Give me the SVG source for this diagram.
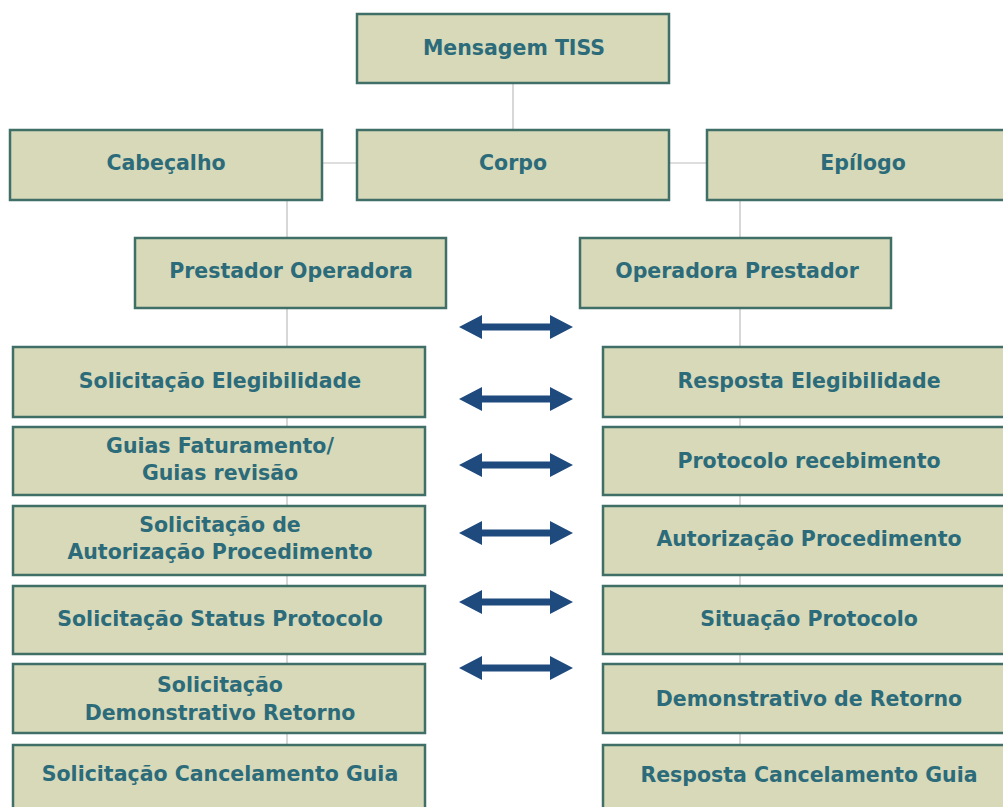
<svg xmlns="http://www.w3.org/2000/svg" width="1003" height="807" viewBox="0 0 1003 807">
  <style>
    .box rect { fill: #D7D9B9; stroke: #3F6F66; stroke-width: 2.5; }
    .box text { font-family: "DejaVu Sans", "Liberation Sans", sans-serif; font-weight: bold; font-size: 20.5px; fill: #2C6B7A; text-anchor: middle; }
    .conn line { stroke: #BDBDBD; stroke-width: 1.2; }
    .arr use { fill: #1F4A7E; }
  </style>
  <defs>
    <path id="dbl" d="M0,0 L23,-12 L23,-3.5 L91,-3.5 L91,-12 L114,0 L91,12 L91,3.5 L23,3.5 L23,12 Z"/>
  </defs>
  <rect width="1003" height="807" fill="#FFFFFF"/>

  <!-- connectors -->
  <g id="connectors" class="conn">
    <line x1="513" y1="83" x2="513" y2="130"/>
    <line x1="322" y1="163" x2="357" y2="163"/>
    <line x1="669" y1="163" x2="707" y2="163"/>
    <line x1="287" y1="200" x2="287" y2="238"/>
    <line x1="740" y1="200" x2="740" y2="238"/>
    <line x1="287" y1="308" x2="287" y2="347"/>
    <line x1="740" y1="308" x2="740" y2="347"/>
    <line x1="287" y1="417" x2="287" y2="427"/>
    <line x1="287" y1="495" x2="287" y2="506"/>
    <line x1="287" y1="575" x2="287" y2="586"/>
    <line x1="287" y1="654" x2="287" y2="664"/>
    <line x1="287" y1="733" x2="287" y2="745"/>
    <line x1="740" y1="417" x2="740" y2="427"/>
    <line x1="740" y1="495" x2="740" y2="506"/>
    <line x1="740" y1="575" x2="740" y2="586"/>
    <line x1="740" y1="654" x2="740" y2="664"/>
    <line x1="740" y1="733" x2="740" y2="745"/>
  </g>

  <!-- exchange arrows -->
  <g id="arrows" class="arr">
    <use href="#dbl" x="459" y="327"/>
    <use href="#dbl" x="459" y="399"/>
    <use href="#dbl" x="459" y="465"/>
    <use href="#dbl" x="459" y="533"/>
    <use href="#dbl" x="459" y="602"/>
    <use href="#dbl" x="459" y="668"/>
  </g>

  <!-- top levels -->
  <g id="mensagem" class="box"><rect x="357" y="14" width="312" height="69"/><text x="514" y="55">Mensagem TISS</text></g>
  <g id="cabecalho" class="box"><rect x="10" y="130" width="312" height="70"/><text x="166" y="170">Cabeçalho</text></g>
  <g id="corpo" class="box"><rect x="357" y="130" width="312" height="70"/><text x="513" y="170">Corpo</text></g>
  <g id="epilogo" class="box"><rect x="707" y="130" width="312" height="70"/><text x="863" y="170">Epílogo</text></g>
  <g id="prestador-operadora" class="box"><rect x="135" y="238" width="311" height="70"/><text x="291" y="278">Prestador Operadora</text></g>
  <g id="operadora-prestador" class="box"><rect x="580" y="238" width="311" height="70"/><text x="737" y="278">Operadora Prestador</text></g>

  <!-- left column -->
  <g id="sol-elegibilidade" class="box"><rect x="13" y="347" width="412" height="70"/><text x="220" y="388">Solicitação Elegibilidade</text></g>
  <g id="guias-faturamento" class="box"><rect x="13" y="427" width="412" height="68"/><text x="220" y="453">Guias Faturamento/</text><text x="220" y="480">Guias revisão</text></g>
  <g id="sol-autorizacao" class="box"><rect x="13" y="506" width="412" height="69"/><text x="220" y="532">Solicitação de</text><text x="220" y="559">Autorização Procedimento</text></g>
  <g id="sol-status" class="box"><rect x="13" y="586" width="412" height="68"/><text x="220" y="626">Solicitação Status Protocolo</text></g>
  <g id="sol-demonstrativo" class="box"><rect x="13" y="664" width="412" height="69"/><text x="220" y="692">Solicitação</text><text x="220" y="720">Demonstrativo Retorno</text></g>
  <g id="sol-cancelamento" class="box"><rect x="13" y="745" width="412" height="70"/><text x="220" y="781">Solicitação Cancelamento Guia</text></g>

  <!-- right column -->
  <g id="resp-elegibilidade" class="box"><rect x="603" y="347" width="412" height="70"/><text x="809" y="388">Resposta Elegibilidade</text></g>
  <g id="protocolo-recebimento" class="box"><rect x="603" y="427" width="412" height="68"/><text x="809" y="468">Protocolo recebimento</text></g>
  <g id="autorizacao" class="box"><rect x="603" y="506" width="412" height="69"/><text x="809" y="546">Autorização Procedimento</text></g>
  <g id="situacao" class="box"><rect x="603" y="586" width="412" height="68"/><text x="809" y="626">Situação Protocolo</text></g>
  <g id="demonstrativo" class="box"><rect x="603" y="664" width="412" height="69"/><text x="809" y="706">Demonstrativo de Retorno</text></g>
  <g id="resp-cancelamento" class="box"><rect x="603" y="745" width="412" height="70"/><text x="809" y="782">Resposta Cancelamento Guia</text></g>
</svg>
